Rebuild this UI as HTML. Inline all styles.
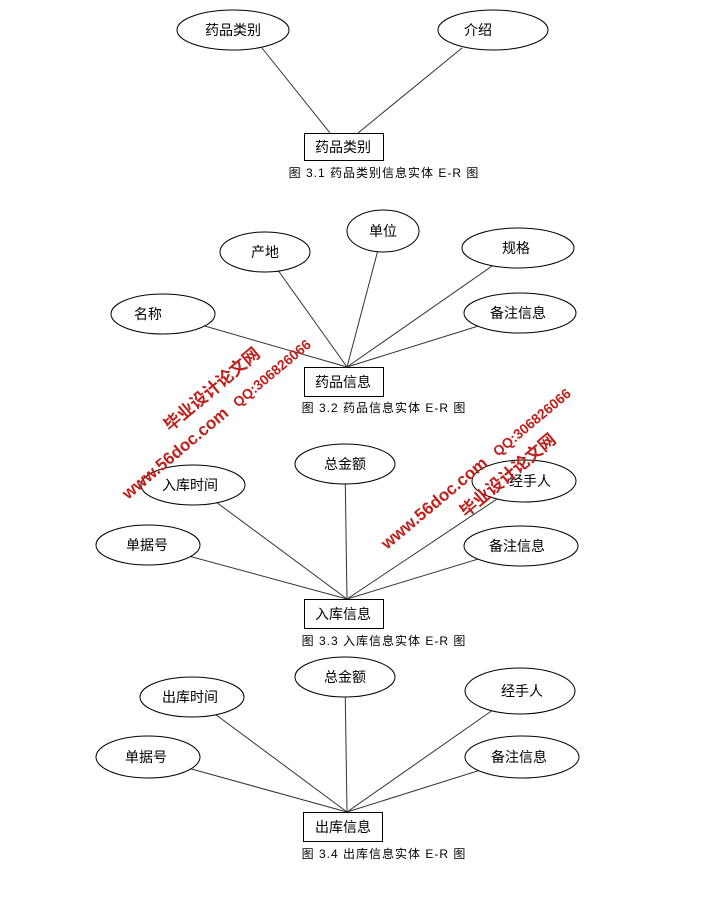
<!DOCTYPE html>
<html><head><meta charset="utf-8"><style>
body{margin:0;background:#fff;width:718px;height:902px;overflow:hidden}
svg text{font-family:"Liberation Sans","Noto Sans CJK SC",sans-serif}
</style></head><body>
<svg width="718" height="902" xmlns="http://www.w3.org/2000/svg">
<g stroke="#333" stroke-width="1" fill="none">
<line x1="262" y1="48" x2="330" y2="133"/><line x1="462" y1="48" x2="358" y2="133"/>
<line x1="347" y1="367" x2="265" y2="252"/><line x1="347" y1="367" x2="383" y2="231"/><line x1="347" y1="367" x2="518" y2="248"/><line x1="347" y1="367" x2="163" y2="314"/><line x1="347" y1="367" x2="520" y2="313"/>
<line x1="347" y1="599" x2="345" y2="464"/><line x1="347" y1="599" x2="193" y2="485"/><line x1="347" y1="599" x2="524" y2="481"/><line x1="347" y1="599" x2="148" y2="545"/><line x1="347" y1="599" x2="521" y2="546"/>
<line x1="347" y1="812" x2="345" y2="677"/><line x1="347" y1="812" x2="192" y2="697"/><line x1="347" y1="812" x2="520" y2="691"/><line x1="347" y1="812" x2="148" y2="757"/><line x1="347" y1="812" x2="522" y2="757"/>
</g>
<g stroke="#000" stroke-width="1" fill="#fff">
<ellipse cx="233" cy="30" rx="56" ry="20"/><ellipse cx="493" cy="30" rx="55" ry="20"/>
<rect x="304.5" y="133.5" width="79" height="27"/>
<ellipse cx="265" cy="252" rx="45" ry="20"/><ellipse cx="383" cy="231" rx="36" ry="21"/><ellipse cx="518" cy="248" rx="56" ry="20"/><ellipse cx="163" cy="314" rx="52" ry="20"/><ellipse cx="520" cy="313" rx="56" ry="20"/>
<rect x="304.5" y="367.5" width="79" height="29"/>
<ellipse cx="345" cy="464" rx="50" ry="20"/><ellipse cx="193" cy="485" rx="52" ry="20"/><ellipse cx="524" cy="481" rx="52" ry="21"/><ellipse cx="148" cy="545" rx="52" ry="20"/><ellipse cx="521" cy="546" rx="57" ry="20"/>
<rect x="304.5" y="599.5" width="79" height="29"/>
<ellipse cx="345" cy="677" rx="50" ry="20"/><ellipse cx="192" cy="697" rx="52" ry="20"/><ellipse cx="520" cy="691" rx="55" ry="23"/><ellipse cx="148" cy="757" rx="52" ry="21"/><ellipse cx="522" cy="757" rx="57" ry="21"/>
<rect x="303.5" y="812.5" width="79" height="29"/>
</g>
<g font-size="14" fill="#000" text-anchor="middle">
<text x="233" y="35">药品类别</text><text x="478" y="35">介绍</text><text x="343" y="152">药品类别</text>
<text x="265" y="257">产地</text><text x="383" y="236">单位</text><text x="516" y="253">规格</text><text x="148" y="319">名称</text><text x="518" y="318">备注信息</text><text x="343" y="387">药品信息</text>
<text x="345" y="469">总金额</text><text x="190" y="490">入库时间</text><text x="530" y="486">经手人</text><text x="147" y="550">单据号</text><text x="517" y="551">备注信息</text><text x="343" y="619">入库信息</text>
<text x="345" y="682">总金额</text><text x="190" y="702">出库时间</text><text x="522" y="696">经手人</text><text x="146" y="762">单据号</text><text x="519" y="762">备注信息</text><text x="343" y="832">出库信息</text>
</g>
<g font-size="12" fill="#000" text-anchor="middle" letter-spacing="1">
<text x="384" y="177">图 3.1 药品类别信息实体 E-R 图</text>
<text x="384" y="412">图 3.2 药品信息实体 E-R 图</text>
<text x="384" y="645">图 3.3 入库信息实体 E-R 图</text>
<text x="384" y="858">图 3.4 出库信息实体 E-R 图</text>
</g>
<g fill="#c0201c" font-weight="bold">
<text transform="translate(170,432) rotate(-40)" font-size="17">毕业设计论文网</text>
<text transform="translate(238,408) rotate(-40)" font-size="14">QQ:306826066</text>
<text transform="translate(128,500) rotate(-40)" font-size="17">www.56doc.com</text>
<text transform="translate(466,518) rotate(-40)" font-size="17">毕业设计论文网</text>
<text transform="translate(498,457) rotate(-40)" font-size="14">QQ:306826066</text>
<text transform="translate(387,550) rotate(-40)" font-size="17">www.56doc.com</text>
</g>
</svg>
</body></html>
